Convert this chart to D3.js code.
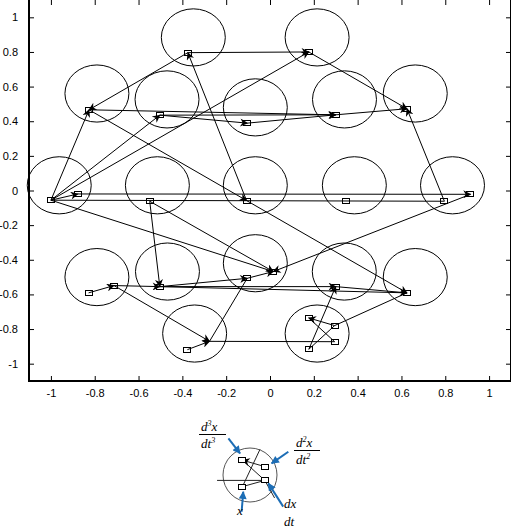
<!DOCTYPE html>
<html>
<head>
<meta charset="utf-8">
<style>
    body { margin: 0; background: #fff; }
    svg { display: block; }
    .tick text { font-family: Arial, "Liberation Sans", sans-serif; font-size: 11px; fill: #000; }
    .tick line { stroke: #000; }
    .domain { display: none; }
    .lbl { font-family: "Liberation Serif", "Times New Roman", serif; font-style: italic; font-size: 13px; fill: #000; }
</style>
</head>
<body>
<svg width="512" height="530"></svg>
<script src="https://d3js.org/d3.v7.min.js"></script>
<script>
// tick values
const xTicks = [-1, -0.8, -0.6, -0.4, -0.2, 0, 0.2, 0.4, 0.6, 0.8, 1];
const yTicks = [-1, -0.8, -0.6, -0.4, -0.2, 0, 0.2, 0.4, 0.6, 0.8, 1];

// circle centres (rows top to bottom)
const circleX = [-0.35, 0.215,
    -0.79, -0.47, -0.067, 0.34, 0.663,
    -0.962, -0.514, -0.067, 0.385, 0.833,
    -0.79, -0.468, -0.067, 0.339, 0.663,
    -0.344, 0.215];
const circleY = [0.884, 0.884,
    0.56, 0.526, 0.48, 0.526, 0.56,
    0.03, 0.03, 0.03, 0.03, 0.03,
    -0.50, -0.468, -0.42, -0.468, -0.50,
    -0.826, -0.826];

// square markers
const nodeName = ["A", "B", "C", "D", "E", "F", "G", "H", "I", "J", "K", "L", "M", "N",
    "O", "P", "Q", "R", "S", "T", "U", "V", "W", "X1", "X2", "X3", "X4"];
const nodeX = [-0.375, 0.177, -0.826, -0.503, -0.103, 0.300, 0.625, -1.000, -0.877, -0.549, -0.107, 0.347, 0.796, 0.915,
    -0.828, -0.712, -0.503, -0.104, 0.015, 0.300, 0.625, -0.377, -0.276, 0.177, 0.295, 0.295, 0.177];
const nodeY = [0.796, 0.800, 0.466, 0.435, 0.389, 0.437, 0.472, -0.056, -0.020, -0.062, -0.058, -0.062, -0.062, -0.022,
    -0.591, -0.549, -0.555, -0.507, -0.468, -0.555, -0.591, -0.919, -0.871, -0.917, -0.873, -0.780, -0.736];

// connections: from, to, arrow at end
const segFrom = ["A", "B", "M", "I", "H", "N", "C", "K", "K", "A", "C", "D", "D", "E", "F", "H", "H", "H", "H", "H",
    "J", "J", "O", "P", "Q", "R", "Q", "Q", "T", "P", "V", "W", "W", "X1", "X3", "X1", "X2", "X3"];
const segTo = ["B", "G", "G", "N", "M", "S", "K", "U", "A", "C", "F", "F", "E", "F", "G", "C", "D", "B", "I", "S",
    "S", "Q", "P", "Q", "R", "S", "T", "U", "U", "W", "W", "X2", "R", "T", "U", "X3", "X4", "X4"];
const segArrow = [1, 1, 1, 1, 0, 1, 1, 1, 1, 1, 0, 1, 1, 1, 1, 1, 1, 1, 1, 0,
    1, 1, 1, 1, 1, 1, 1, 0, 1, 1, 1, 0, 0, 1, 0, 0, 0, 1];

// inset diagram (unit circle coordinates)
const insetName = ["d3", "d2", "dx", "x", "rimA", "rimB", "left"];
const insetX = [-0.28, 0.55, 0.55, -0.28, 0.37, 0.91, -1.22];
const insetY = [0.55, 0.31, -0.2, -0.43, 0.95, -0.85, -0.2];
const insetFrom = ["left", "x", "d3", "d2", "dx", "x"];
const insetTo = ["dx", "rimA", "dx", "d3", "rimB", "dx"];
const insetArrow = [0, 0, 0, 1, 0, 0];
const pointerX0 = [-0.80, 1.42, 1.23, -0.31];
const pointerY0 = [1.36, 0.86, -1.17, -1.36];
const pointerX1 = [-0.37, 0.80, 0.68, -0.25];
const pointerY1 = [0.80, 0.43, -0.31, -0.62];

let svg = d3.select("svg");

let margin = { left: 29, right: 511, top: 0, bottom: 381 };

let x = d3.scaleLinear().domain([-1.1, 1.1]).range([margin.left, margin.right]);
let y = d3.scaleLinear().domain([-1.1, 1.1]).range([margin.bottom, margin.top]);

let fmt = d => d === 0 ? "0" : String(+d.toFixed(1));

let defs = svg.append("defs");
defs.append("marker")
    .attr("id", "ah")
    .attr("viewBox", "0 0 10 10")
    .attr("refX", 9).attr("refY", 5)
    .attr("markerWidth", 10).attr("markerHeight", 8)
    .attr("markerUnits", "userSpaceOnUse")
    .attr("orient", "auto")
    .append("path").attr("d", "M0,0 L10,5 L0,10 L3,5 z").attr("fill", "#000");
defs.append("marker")
    .attr("id", "bh")
    .attr("viewBox", "0 0 10 10")
    .attr("refX", 9).attr("refY", 5)
    .attr("markerWidth", 9).attr("markerHeight", 8)
    .attr("markerUnits", "userSpaceOnUse")
    .attr("orient", "auto")
    .append("path").attr("d", "M0,0 L10,5 L0,10 z").attr("fill", "#1c6db5");

// axes
svg.append("g")
    .attr("transform", `translate(0,${margin.bottom})`)
    .call(d3.axisBottom(x).tickValues(xTicks).tickSizeInner(-5).tickSizeOuter(0).tickPadding(8).tickFormat(fmt));
svg.append("g")
    .attr("transform", `translate(${margin.left},0)`)
    .call(d3.axisLeft(y).tickValues(yTicks).tickSizeInner(-5).tickSizeOuter(0).tickPadding(11).tickFormat(fmt));
svg.append("g")
    .attr("transform", `translate(0,${margin.top})`)
    .call(d3.axisTop(x).tickValues(xTicks).tickSizeInner(-5).tickSizeOuter(0).tickFormat(""));
svg.append("g")
    .attr("transform", `translate(${margin.right},0)`)
    .call(d3.axisRight(y).tickValues(yTicks).tickSizeInner(-5).tickSizeOuter(0).tickFormat(""));

// frame
svg.append("line").attr("x1", margin.left).attr("x2", margin.left).attr("y1", 0).attr("y2", margin.bottom + 1)
    .attr("stroke", "#000").attr("stroke-width", 2);
svg.append("line").attr("x1", margin.left).attr("x2", margin.right).attr("y1", margin.bottom).attr("y2", margin.bottom)
    .attr("stroke", "#000").attr("stroke-width", 2);
svg.append("line").attr("x1", margin.right - 0.5).attr("x2", margin.right - 0.5).attr("y1", 0).attr("y2", margin.bottom)
    .attr("stroke", "#000").attr("stroke-width", 1);

let plot = svg.append("g");

// circles
plot.selectAll(".ring")
    .data(circleX.map((cx, i) => ({ cx, cy: circleY[i] })))
    .join("ellipse")
    .attr("class", "ring")
    .attr("cx", d => x(d.cx))
    .attr("cy", d => y(d.cy))
    .attr("rx", d => x(d.cx + 0.146) - x(d.cx))
    .attr("ry", d => y(d.cy) - y(d.cy + 0.165))
    .attr("fill", "none")
    .attr("stroke", "#000")
    .attr("stroke-width", 1);

let nodes = {};
nodeName.forEach((n, i) => nodes[n] = { x: nodeX[i], y: nodeY[i] });

// connections
plot.selectAll(".seg")
    .data(segFrom.map((f, i) => ({ a: nodes[f], b: nodes[segTo[i]], arrow: segArrow[i] })))
    .join("line")
    .attr("class", "seg")
    .attr("x1", d => x(d.a.x)).attr("y1", d => y(d.a.y))
    .attr("x2", d => x(d.b.x)).attr("y2", d => y(d.b.y))
    .attr("stroke", "#000")
    .attr("stroke-width", 1)
    .attr("marker-end", d => d.arrow ? "url(#ah)" : null);

// squares
plot.selectAll(".sq")
    .data(nodeName.filter(n => n !== "W").map(n => nodes[n]))
    .join("rect")
    .attr("class", "sq")
    .attr("x", d => Math.round(x(d.x)) - 3.5)
    .attr("y", d => Math.round(y(d.y)) - 2.5)
    .attr("width", 7)
    .attr("height", 5)
    .attr("fill", "none")
    .attr("stroke", "#000")
    .attr("stroke-width", 1);

// inset
let ix = d3.scaleLinear().domain([-1, 1]).range([223, 277]);
let iy = d3.scaleLinear().domain([-1, 1]).range([502, 448]);
let inset = svg.append("g");
let ipts = {};
insetName.forEach((n, i) => ipts[n] = { x: insetX[i], y: insetY[i] });

inset.append("circle")
    .attr("cx", ix(0)).attr("cy", iy(0))
    .attr("r", ix(1) - ix(0))
    .attr("fill", "none").attr("stroke", "#555").attr("stroke-width", 1);

inset.selectAll(".iseg")
    .data(insetFrom.map((f, i) => ({ a: ipts[f], b: ipts[insetTo[i]], arrow: insetArrow[i] })))
    .join("line")
    .attr("class", "iseg")
    .attr("x1", d => ix(d.a.x)).attr("y1", d => iy(d.a.y))
    .attr("x2", d => ix(d.b.x)).attr("y2", d => iy(d.b.y))
    .attr("stroke", "#222").attr("stroke-width", 1)
    .attr("marker-end", d => d.arrow ? "url(#ah)" : null);

inset.selectAll(".isq")
    .data(["d3", "d2", "dx", "x"].map(n => ipts[n]))
    .join("rect")
    .attr("class", "isq")
    .attr("x", d => Math.round(ix(d.x)) - 3.5)
    .attr("y", d => Math.round(iy(d.y)) - 2.5)
    .attr("width", 7).attr("height", 5)
    .attr("fill", "#fff").attr("stroke", "#000").attr("stroke-width", 1);

inset.selectAll(".ptr")
    .data(pointerX0.map((v, i) => ({ x0: v, y0: pointerY0[i], x1: pointerX1[i], y1: pointerY1[i] })))
    .join("line")
    .attr("class", "ptr")
    .attr("x1", d => ix(d.x0)).attr("y1", d => iy(d.y0))
    .attr("x2", d => ix(d.x1)).attr("y2", d => iy(d.y1))
    .attr("stroke", "#1c6db5").attr("stroke-width", 2)
    .attr("marker-end", "url(#bh)");

function deriv(g, px, py, top, bottom) {
    let t = g.append("text").attr("class", "lbl").attr("x", px).attr("y", py);
    t.append("tspan").text("d");
    if (top) t.append("tspan").attr("dy", -5).attr("font-size", 8).text(top);
    t.append("tspan").attr("dy", top ? 5 : 0).text("x");
    let b = g.append("text").attr("class", "lbl").attr("x", px).attr("y", py + 17);
    b.append("tspan").text("dt");
    if (bottom) b.append("tspan").attr("dy", -5).attr("font-size", 8).text(bottom);
}

deriv(inset, 201, 431, "3", "3");
inset.append("line").attr("x1", 199).attr("x2", 226).attr("y1", 434.5).attr("y2", 434.5).attr("stroke", "#000");
deriv(inset, 296, 447, "2", "2");
inset.append("line").attr("x1", 294).attr("x2", 320).attr("y1", 450.5).attr("y2", 450.5).attr("stroke", "#000");
inset.append("text").attr("class", "lbl").attr("x", 284).attr("y", 508).text("dx");
inset.append("text").attr("class", "lbl").attr("x", 284).attr("y", 526).text("dt");
inset.append("text").attr("class", "lbl").attr("x", 237).attr("y", 515).text("x");
</script>
</body>
</html>
